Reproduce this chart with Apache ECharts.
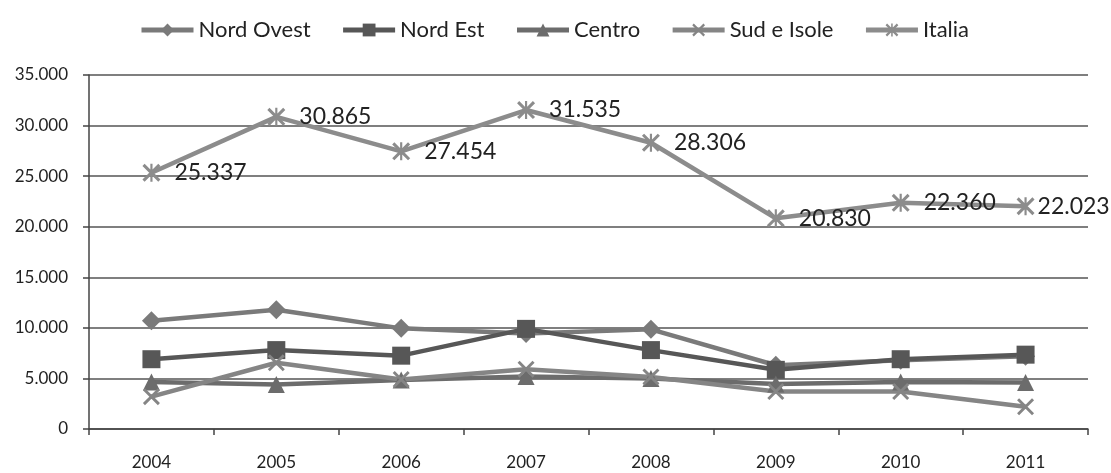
<!DOCTYPE html>
<html lang="it">
<head>
    <meta charset="UTF-8">
    <title>Nord Ovest, Nord Est, Centro, Sud e Isole, Italia</title>
    <script src="https://cdn.jsdelivr.net/npm/echarts@6.0.0/dist/echarts.min.js"></script>
    <style>
        html, body { margin: 0; padding: 0; background: #fff; }
        #main { width: 1111px; height: 473px; }
    </style>
</head>
<body>
    <div id="main"></div>
    <script type="text/javascript">
        // dati
        const anni = ['2004', '2005', '2006', '2007', '2008', '2009', '2010', '2011'];
        const nordOvest = [10700, 11800, 9950, 9450, 9850, 6300, 6800, 7200];
        const nordEst = [6900, 7800, 7250, 9900, 7800, 5850, 6900, 7350];
        const centro = [4650, 4400, 4850, 5200, 5000, 4450, 4650, 4600];
        const sudIsole = [3200, 6550, 4900, 5900, 5150, 3700, 3700, 2200];
        const italia = [25337, 30865, 27454, 31535, 28306, 20830, 22360, 22023];

        const FONT = 'Lato';
        const croce = 'path://M0,1.2L1.2,0L10,8.8L8.8,10Z M8.8,0L10,1.2L1.2,10L0,8.8Z';
        const asterisco = 'path://M0,1.2L1.2,0L10,8.8L8.8,10Z M8.8,0L10,1.2L1.2,10L0,8.8Z M4.4,0L5.6,0L5.6,10L4.4,10Z';

        function puntini(v) {
            return String(v).replace(/\B(?=(\d{3})+(?!\d))/g, '.');
        }

        function serie(nome, dati, colore, simbolo, dim) {
            return {
                name: nome,
                type: 'line',
                data: dati,
                symbol: simbolo,
                symbolSize: dim,
                showAllSymbol: true,
                lineStyle: { color: colore, width: 4.5 },
                itemStyle: { color: colore },
                emphasis: { disabled: true }
            };
        }

        var grafico = echarts.init(document.getElementById('main'));
        var s = [
            serie('Nord Ovest', nordOvest, '#7a7a7a', 'diamond', 19),
            serie('Nord Est', nordEst, '#575757', 'rect', 18),
            serie('Centro', centro, '#6c6c6c', 'triangle', 17),
            serie('Sud e Isole', sudIsole, '#858585', croce, 17),
            serie('Italia', italia, '#8c8c8c', asterisco, 18)
        ];
        // l'ultima etichetta è più vicina al punto, come nell'originale
        s[4].data = italia.map(function (v, i) {
            return i === italia.length - 1 ? { value: v, label: { distance: 3 } } : v;
        });
        s[4].label = {
            show: true,
            position: 'right',
            distance: 14,
            color: '#222',
            fontFamily: FONT,
            fontSize: 23,
            formatter: function (p) { return puntini(p.value); }
        };

        var option = {
            animation: false,
            backgroundColor: '#fff',
            textStyle: { fontFamily: FONT },
            legend: {
                top: 14,
                left: 134,
                itemWidth: 52,
                itemHeight: 16,
                itemGap: 30,
                lineStyle: { width: 5 },
                textStyle: { fontFamily: FONT, fontSize: 22, color: '#222' },
                data: ['Nord Ovest', 'Nord Est', 'Centro', 'Sud e Isole', 'Italia']
            },
            grid: { left: 89, right: 23, top: 75, bottom: 44 },
            xAxis: {
                type: 'category',
                data: anni,
                boundaryGap: true,
                axisLine: { lineStyle: { color: '#444', width: 1.5 } },
                axisTick: { show: true, length: 6, lineStyle: { color: '#444', width: 1.5 } },
                axisLabel: { color: '#222', fontFamily: FONT, fontSize: 17, margin: 25 }
            },
            yAxis: {
                type: 'value',
                min: 0,
                max: 35000,
                interval: 5000,
                axisLine: { show: true, lineStyle: { color: '#444', width: 1.5 } },
                axisTick: { show: true, length: 6, lineStyle: { color: '#444', width: 1.5 } },
                splitLine: { lineStyle: { color: '#555', width: 1.5 } },
                axisLabel: {
                    color: '#222', fontFamily: FONT, fontSize: 17, margin: 21,
                    formatter: function (v) { return puntini(v); }
                }
            },
            series: s
        };
        grafico.setOption(option);
    </script>
</body>
</html>
